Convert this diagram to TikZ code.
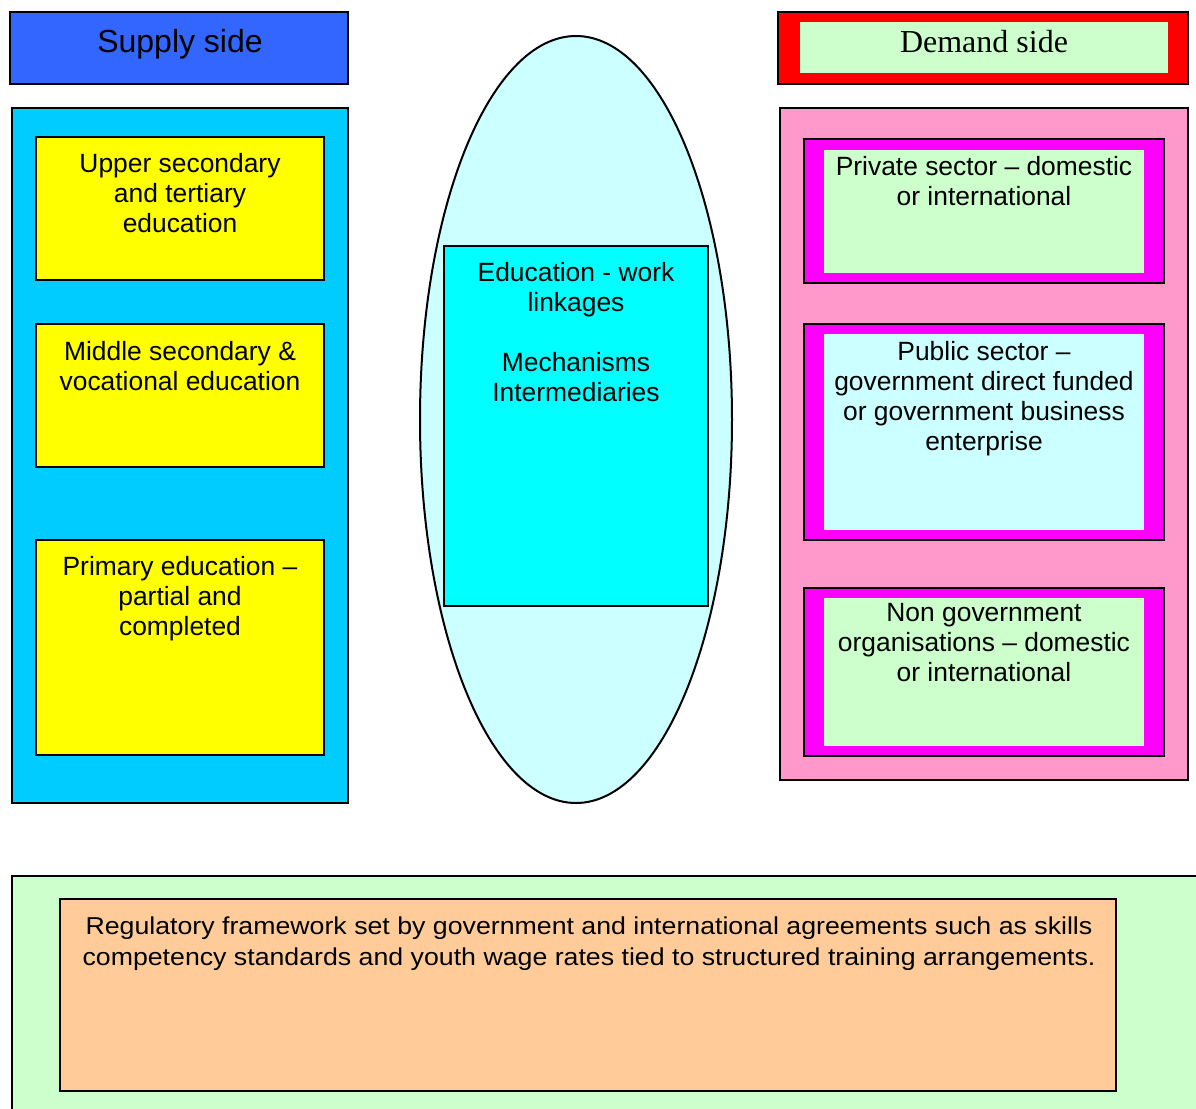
\documentclass[tikz,border=0pt]{standalone}
\usepackage{fontspec}
\setmainfont{Liberation Sans}
\newfontfamily\seriffont{Liberation Serif}
\newfontfamily\widefont[FakeStretch=1.095]{Liberation Sans}
\usepackage{tikz}
\usetikzlibrary{calc}
\usepackage{xcolor}

\definecolor{supplyblue}{HTML}{3366FF}
\definecolor{supplycyan}{HTML}{00CCFF}
\definecolor{boxyellow}{HTML}{FFFF00}
\definecolor{ovalcyan}{HTML}{CCFFFF}
\definecolor{linkcyan}{HTML}{00FFFF}
\definecolor{demandred}{HTML}{FF0000}
\definecolor{palegreen}{HTML}{CCFFCC}
\definecolor{panelpink}{HTML}{FF99CC}
\definecolor{sectormagenta}{HTML}{FF00FF}
\definecolor{rulepeach}{HTML}{FFCC99}

\begin{document}
\begin{tikzpicture}[x=0.5pt, y=-0.5pt,
    panel/.style={draw=black, line width=1pt},
    txt/.style={align=center, inner sep=0pt, anchor=north, font=\fontsize{13.2}{15}\selectfont}]

    % Page frame in pixel units
    \useasboundingbox (0,0) rectangle (1196,1109);

    % Supply side header and panel
    \draw[panel, fill=supplyblue] (10,12) rectangle (348,84);
    \node[anchor=base, font=\fontsize{16}{19}\selectfont] (supply) at (180,52) {Supply side};
    \draw[panel, fill=supplycyan] (12,108) rectangle (348,803);

    % Education levels
    \draw[panel, fill=boxyellow] (36,137) rectangle (324,280);
    \draw[panel, fill=boxyellow] (36,324) rectangle (324,467);
    \draw[panel, fill=boxyellow] (36,540) rectangle (324,755);
    \node[txt] (upper) at (180,153) {Upper secondary\\and tertiary\\education};
    \node[txt] (middle) at (180,341) {Middle secondary \&\\vocational education};
    \node[txt] (primary) at (180,556) {Primary education --\\partial and\\completed};

    % Linkages in the middle
    \draw[panel, fill=ovalcyan] (576,419.5) ellipse [x radius=156, y radius=383.5];
    \draw[panel, fill=linkcyan] (444,246) rectangle (708,606);
    \node[txt] (linkages) at (576,262) {Education - work\\linkages\\[15pt]Mechanisms\\Intermediaries};

    % Demand side header and panel
    \draw[panel, fill=demandred] (778,12) rectangle (1188,84);
    \fill[palegreen] (800,22) rectangle (1168,73);
    \node[anchor=base, font=\seriffont\fontsize{16}{19}\selectfont] (demand) at (984,52) {Demand side};
    \draw[panel, fill=panelpink] (780,108) rectangle (1188,780);

    % Employers
    \draw[panel, fill=sectormagenta] (804,139) rectangle (1164,283);
    \fill[palegreen] (824,150) rectangle (1144,273);
    \draw[panel, fill=sectormagenta] (804,324) rectangle (1164,540);
    \fill[ovalcyan] (824,334) rectangle (1144,530);
    \draw[panel, fill=sectormagenta] (804,588) rectangle (1164,756);
    \fill[palegreen] (824,598) rectangle (1144,746);
    \node[txt] (private) at (984,156) {Private sector -- domestic\\or international};
    \node[txt] (public) at (984,341) {Public sector --\\government direct funded\\or government business\\enterprise};
    \node[txt] (ngo) at (984,603) {Non government\\organisations -- domestic\\or international};

    % Regulatory framework along the bottom
    \draw[panel, fill=palegreen] (12,876) rectangle (1210,1120);
    \draw[panel, fill=rulepeach] (60,899) rectangle (1116,1091);
    \node[txt, font=\widefont\fontsize{12.2}{15.8}\selectfont] (rules) at (589,916)
        {Regulatory framework set by government and international agreements such as skills\\competency standards and youth wage rates tied to structured training arrangements.};
\end{tikzpicture}
\end{document}
